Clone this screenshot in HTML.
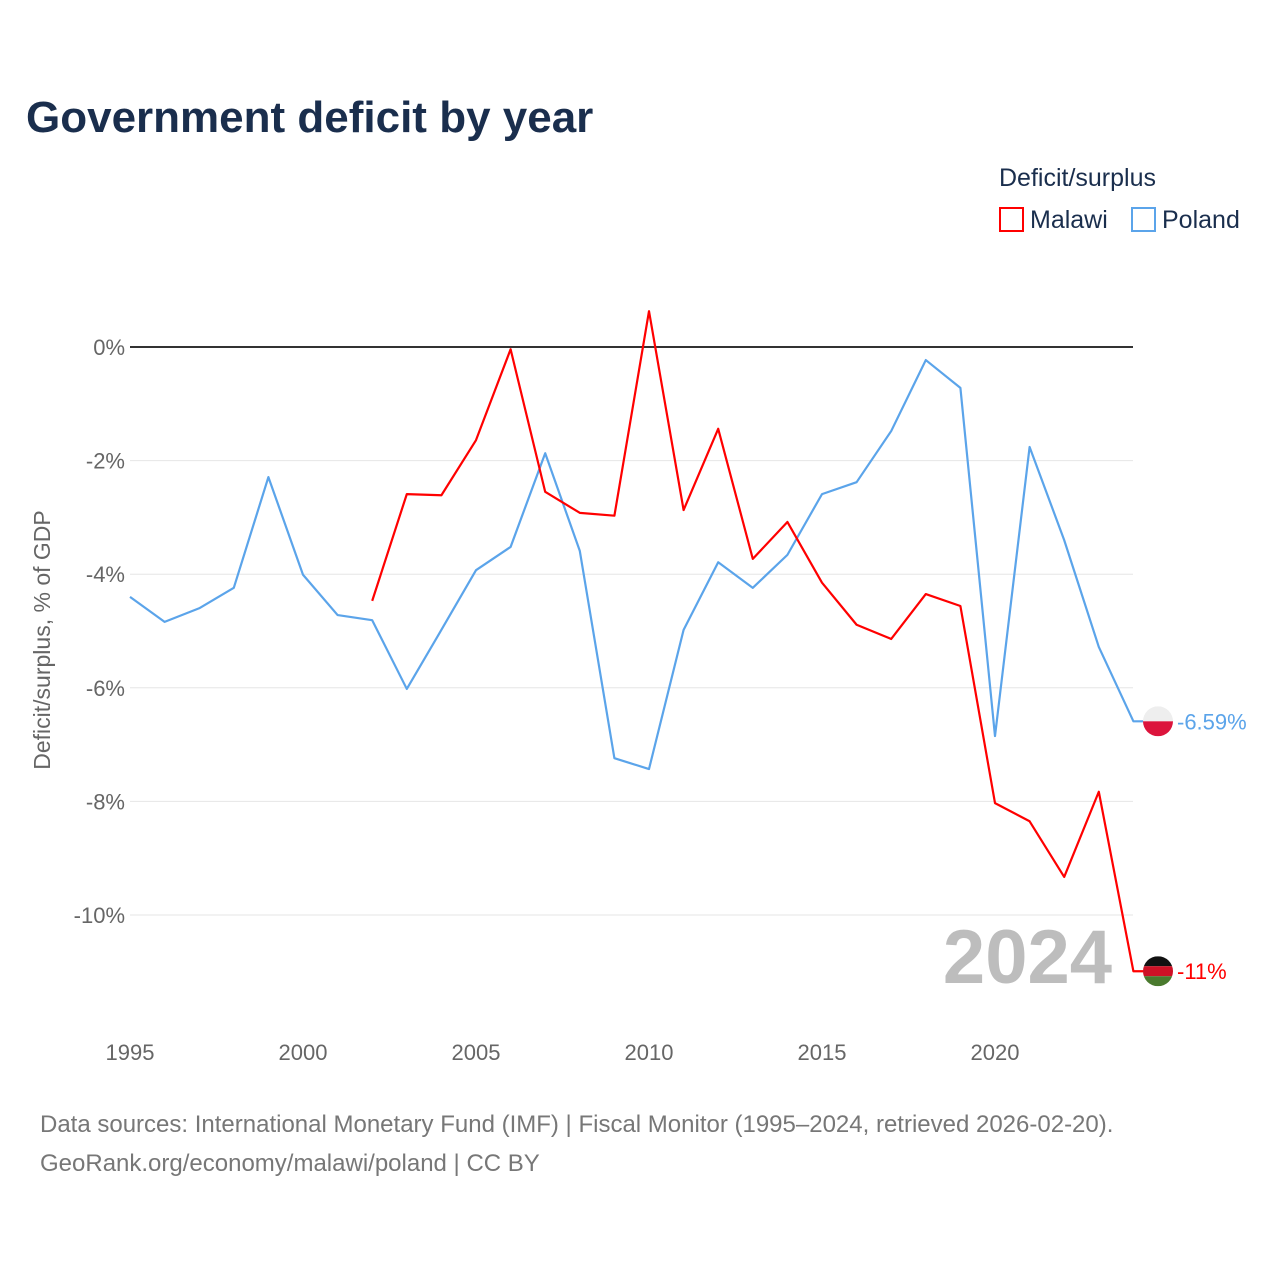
<!DOCTYPE html>
<html><head><meta charset="utf-8">
<style>
body{margin:0;background:#fff;font-family:"Liberation Sans",sans-serif;}
</style></head>
<body>
<svg id="chart" width="1280" height="1280" viewBox="0 0 1280 1280">
<text x="26" y="132" font-size="44" font-weight="bold" fill="#1a2e4d">Government deficit by year</text>
<text x="999" y="186" font-size="25" fill="#1a2e4d">Deficit/surplus</text>
<g><rect x="1000" y="208" width="23" height="23" fill="none" stroke="#ff0000" stroke-width="2"/><text x="1030" y="228" font-size="25" fill="#1a2e4d">Malawi</text></g>
<g><rect x="1132" y="208" width="23" height="23" fill="none" stroke="#5ba4ea" stroke-width="2"/><text x="1162" y="228" font-size="25" fill="#1a2e4d">Poland</text></g>
<g id="grid"></g><g id="xaxis"></g><g id="yaxis"></g>
<text x="1112" y="983" font-size="76" font-weight="bold" fill="#bdbdbd" text-anchor="end">2024</text>
<g id="series"></g>
<text transform="translate(50,640) rotate(-90)" font-size="23" fill="#666" text-anchor="middle">Deficit/surplus, % of GDP</text>
<text x="40" y="1132" font-size="24" fill="#777">Data sources: International Monetary Fund (IMF) | Fiscal Monitor (1995–2024, retrieved 2026-02-20).</text>
<text x="40" y="1171" font-size="24" fill="#777">GeoRank.org/economy/malawi/poland | CC BY</text>
</svg>
<script>
const years=[1995,1996,1997,1998,1999,2000,2001,2002,2003,2004,2005,2006,2007,2008,2009,2010,2011,2012,2013,2014,2015,2016,2017,2018,2019,2020,2021,2022,2023,2024];
const poland=[-4.40,-4.84,-4.60,-4.24,-2.29,-4.01,-4.72,-4.81,-6.02,-4.98,-3.93,-3.52,-1.87,-3.59,-7.24,-7.43,-4.98,-3.79,-4.24,-3.66,-2.59,-2.38,-1.48,-0.23,-0.72,-6.85,-1.76,-3.40,-5.28,-6.59];
const malawi=[null,null,null,null,null,null,null,-4.47,-2.59,-2.61,-1.64,-0.04,-2.55,-2.92,-2.97,0.63,-2.87,-1.44,-3.73,-3.08,-4.15,-4.89,-5.14,-4.35,-4.56,-8.03,-8.35,-9.33,-7.83,-10.99];
const yTicks=[0,-2,-4,-6,-8,-10];
const xTicks=[1995,2000,2005,2010,2015,2020];
const NS="http://www.w3.org/2000/svg";
const X=y=>130+(y-1995)*34.6;
const Y=v=>347-v*56.8;
function mk(tag,attrs,parent){const e=document.createElementNS(NS,tag);for(const k in attrs)e.setAttribute(k,attrs[k]);parent.appendChild(e);return e;}
const grid=document.getElementById('grid'),ya=document.getElementById('yaxis'),xa=document.getElementById('xaxis'),ser=document.getElementById('series');
yTicks.forEach(t=>{
 const l=mk('line',{x1:130,x2:1133,y1:Y(t),y2:Y(t),stroke:t===0?'#333':'#e6e6e6','stroke-width':t===0?2:1},grid);
 
 
 const tx=mk('text',{x:125,y:Y(t)+8,'font-size':22,fill:'#666','text-anchor':'end'},ya);
 tx.textContent=t+'%';
 
 
});
xTicks.forEach(t=>{
 const tx=mk('text',{x:X(t),y:1060,'font-size':22,fill:'#666','text-anchor':'middle'},xa);
 tx.textContent=t;
 
 
});
function line(vals,color,name){
 let d='';vals.forEach((v,i)=>{if(v===null)return;d+=(d?'L':'M')+X(years[i])+','+Y(v);});
 d+='h10';
 const p=mk('path',{d:d,fill:'none',stroke:color,'stroke-width':2.2,'stroke-linejoin':'round'},ser);
 
 
}
line(poland,'#5ba4ea','poland-line');
line(malawi,'#ff0000','malawi-line');
const pl=poland[poland.length-1],ml=malawi[malawi.length-1];
const g1=mk('g',{},ser);


mk('clipPath',{id:'c1'},g1).appendChild(document.createElementNS(NS,'circle'));
g1.querySelector('circle').setAttribute('cx',1158);g1.querySelector('circle').setAttribute('cy',Y(pl));g1.querySelector('circle').setAttribute('r',15);
mk('rect',{x:1143,y:Y(pl)-15,width:30,height:15,fill:'#eee','clip-path':'url(#c1)'},g1);
mk('rect',{x:1143,y:Y(pl),width:30,height:15,fill:'#dc143c','clip-path':'url(#c1)'},g1);
const g2=mk('g',{},ser);


mk('clipPath',{id:'c2'},g2).appendChild(document.createElementNS(NS,'circle'));
g2.querySelector('circle').setAttribute('cx',1158);g2.querySelector('circle').setAttribute('cy',Y(ml));g2.querySelector('circle').setAttribute('r',15);
mk('rect',{x:1143,y:Y(ml)-15,width:30,height:10,fill:'#111','clip-path':'url(#c2)'},g2);
mk('rect',{x:1143,y:Y(ml)-5,width:30,height:10,fill:'#ce1126','clip-path':'url(#c2)'},g2);
mk('rect',{x:1143,y:Y(ml)+5,width:30,height:10,fill:'#4a7a2e','clip-path':'url(#c2)'},g2);
const t1=mk('text',{x:1177,y:Y(pl)+8,'font-size':22,fill:'#5ba4ea'},ser);
t1.textContent=pl+'%';


const t2=mk('text',{x:1177,y:Y(ml)+8,'font-size':22,fill:'#ff0000'},ser);
t2.textContent=Math.round(ml)+'%';


</script>
</body></html>
